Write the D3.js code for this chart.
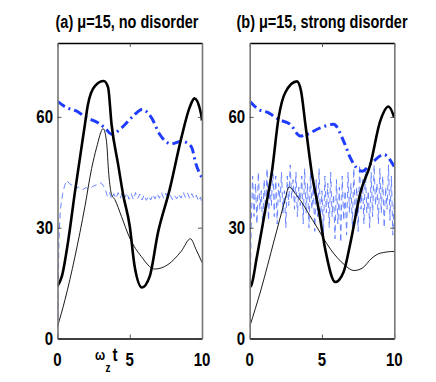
<!DOCTYPE html>
<html>
<head>
<meta charset="utf-8">
<script src="https://cdn.jsdelivr.net/npm/d3@7"></script>
<style>
  body { margin: 0; background: #fff; }
  text { font-family: "Liberation Sans Narrow", "Arial Narrow", "Liberation Sans", sans-serif; font-weight: bold; }
</style>
</head>
<body>
<div id="chart"></div>
<script>
const titles = ["(a) \u03bc=15, no disorder", "(b) \u03bc=15, strong disorder"]
const xTicks = [0, 5, 10]
const yTicks = [0, 30, 60]

// panel (a): [t, value]
const aThick = [[0,14.2],[0.3,16.8],[0.75,26.7],[1.2,39.5],[1.9,58],[2.1,63.2],[2.6,68.4],[3.2,69.7],[3.5,68],[3.74,58],[4.2,47],[4.54,39],[5,30.4],[5.34,19.5],[5.85,13.8],[6.38,16.8],[6.95,28.6],[7.76,40.3],[8.57,54.3],[9.14,62.5],[9.48,65],[9.94,60.7],[10,59]]
const aThin = [[0,3.2],[0.52,10.5],[1.2,22],[1.9,35.8],[2.36,46],[2.7,51.6],[3.16,56.8],[3.39,53.4],[3.55,44.4],[3.74,39],[3.97,37.6],[4.43,33],[5,27.2],[5.8,22.2],[6.72,18.8],[7.64,20],[8.56,23.6],[9.2,27],[9.6,24],[10,20.6]]
const aDashDot = [[0,64.2],[0.63,62.5],[1.3,61.6],[2,59.8],[2.8,58.4],[3.28,57],[3.74,55.3],[4.43,57],[5.23,60.2],[5.85,62],[6.5,59.8],[7.07,55.3],[7.87,52.7],[8.57,53.4],[9.25,52],[9.6,47],[10,43.5]]
const aDashed = [[0,0],[0.05,12],[0.1,27],[0.2,35],[0.35,39],[0.5,41.5],[0.65,42.8],[0.8,42],[1,41.5],[1.2,40.5],[1.45,41],[1.7,40.2],[1.95,40.8],[2.2,40.5],[2.45,41.2],[2.7,41.6],[2.95,42.2],[3.1,41.8],[3.3,40.5],[3.45,38.5],[3.6,39.5],[3.75,37.8],[3.9,39.2],[4.05,37.9],[4.2,39.5],[4.35,38],[4.5,39.6],[4.65,38.1],[4.8,39.4],[4.95,37.7],[5.1,39.2],[5.25,37.6],[5.4,39.5],[5.55,37.9],[5.7,39.1],[5.85,37.5],[6,38.9],[6.15,37.4],[6.3,38.6],[6.45,37.5],[6.6,39],[6.75,37.8],[6.9,39.2],[7.05,38],[7.2,39.5],[7.35,37.9],[7.5,39.3],[7.65,38.1],[7.8,38.8],[7.95,37.6],[8.1,38.7],[8.25,37.8],[8.4,39.1],[8.55,38],[8.7,39.6],[8.85,38.2],[9,39.4],[9.15,37.9],[9.3,39.2],[9.45,37.8],[9.6,38.8],[9.75,37.2],[9.9,38.3],[10,36.2]]

// panel (b): [t, value]
const bThick = [[0,14],[0.1,14.3],[0.5,22.2],[1.08,34.9],[1.54,45.3],[2,59.8],[2.46,66.6],[3.27,69.6],[3.55,67],[3.85,58],[4.31,44.4],[4.77,34.9],[5.23,24],[5.92,15.3],[6.5,18.1],[6.96,25.8],[7.65,39.4],[8.34,47.1],[9.03,58.9],[9.6,62.8],[10,59.8]]
const bThin = [[0,3.2],[0.78,13.2],[1.7,26.7],[2.39,36.7],[2.72,41],[3.2,39],[4.47,31.3],[5.62,24],[6.54,20],[7.2,18.4],[7.77,19],[8.46,21.8],[9.03,23.1],[10,23.6]]
const bDashDot = [[0,64.2],[0.62,62],[1.31,61.1],[2,59.3],[2.8,58],[3.5,54.8],[3.96,55.3],[4.88,57],[5.8,58],[6.5,53.4],[6.96,48.9],[7.77,45.3],[8.46,47.6],[9.27,49.8],[10,46.5]]
const bDashedT = d3.range(0, 101).map(i => i / 10)
const bDashedV = [0,30,44,33,42,31,45,35,40,30,43,34,46,32,41,36,47,33,44,31,42,37,45,34,40,30,44,36,47,38,43,35,45,33,41,36,44,31,46,34,42,30,45,35,41,29,43,33,46,32,40,28,44,34,42,30,45,33,39,27,43,31,41,26,44,32,40,28,45,34,42,30,46,33,41,29,47,35,43,31,46,34,40,30,45,33,47,36,42,31,46,34,44,30,41,35,47,32,44,28,38]
const bDashed = bDashedT.map((t, i) => [t, bDashedV[i]])

const W = 436, H = 382
const svg = d3.select('#chart').append('svg').attr('width', W).attr('height', H)

const panels = [
  { left: 57.5, right: 202, title: titles[0], cx: 127, series: [aDashed, aDashDot, aThin, aThick] },
  { left: 249.7, right: 394.3, title: titles[1], cx: 322, series: [bDashed, bDashDot, bThin, bThick] }
]
const plotTop = 43, plotBottom = 338.5
const styles = [
  { color: '#5a78ff', width: 0.9, dash: '6,4', curve: d3.curveLinear },
  { color: '#1f3cff', width: 3, dash: '9,4,2,4', curve: d3.curveMonotoneX },
  { color: '#000', width: 0.9, dash: null, curve: d3.curveMonotoneX },
  { color: '#000', width: 2.6, dash: null, curve: d3.curveMonotoneX }
]

function label(g, x, y, txt, size, anchor) {
  g.append('text')
    .attr('transform', `translate(${x},${y}) scale(1,1.28)`)
    .attr('text-anchor', anchor || 'middle')
    .attr('font-size', size)
    .attr('fill', '#000')
    .text(txt)
}

panels.forEach((p, k) => {
  const x = d3.scaleLinear().domain([0, 10]).range([p.left, p.right])
  const y = d3.scaleLinear().domain([0, 80]).range([plotBottom, plotTop])
  const g = svg.append('g')

  g.append('clipPath').attr('id', 'clip' + k)
    .append('rect').attr('x', p.left).attr('y', plotTop).attr('width', p.right - p.left).attr('height', plotBottom - plotTop)

  const line = d3.line().x(d => x(d[0])).y(d => y(d[1]))
  p.series.forEach((s, i) => {
    const st = styles[i]
    g.append('path')
      .attr('clip-path', `url(#clip${k})`)
      .attr('d', line.curve(st.curve)(s))
      .attr('fill', 'none')
      .attr('stroke', st.color)
      .attr('stroke-width', st.width)
      .attr('stroke-dasharray', st.dash)
      .attr('stroke-linejoin', 'round')
  })

  // frame + inward ticks
  const axes = [
    { ax: d3.axisBottom(x).tickValues(xTicks), tr: `translate(0,${plotBottom})`, color: '#000' },
    { ax: d3.axisTop(x).tickValues(xTicks), tr: `translate(0,${plotTop})`, color: '#000' },
    { ax: d3.axisLeft(y).tickValues(yTicks), tr: `translate(${p.left},0)`, color: '#777' },
    { ax: d3.axisRight(y).tickValues(yTicks), tr: `translate(${p.right},0)`, color: '#777' }
  ]
  axes.forEach(a => {
    const ag = g.append('g').attr('transform', a.tr)
      .call(a.ax.tickSizeInner(-4).tickSizeOuter(0).tickFormat(''))
    ag.select('.domain').attr('stroke', a.color).attr('stroke-width', 1.6)
    ag.selectAll('.tick line').attr('stroke', '#333').attr('stroke-width', 0.8)
  })

  xTicks.forEach(t => label(g, x(t), 366, String(t), 15))
  yTicks.forEach(t => label(g, p.left - 4.5, y(t) + 6, String(t), 15, 'end'))
  label(g, p.cx, 28, p.title, 14.5)

  if (k === 0) {
    label(g, 100, 360, '\u03c9', 12)
    label(g, 108, 372, 'z', 10)
    label(g, 115, 361, 't', 15)
  }
})
</script>
</body>
</html>
